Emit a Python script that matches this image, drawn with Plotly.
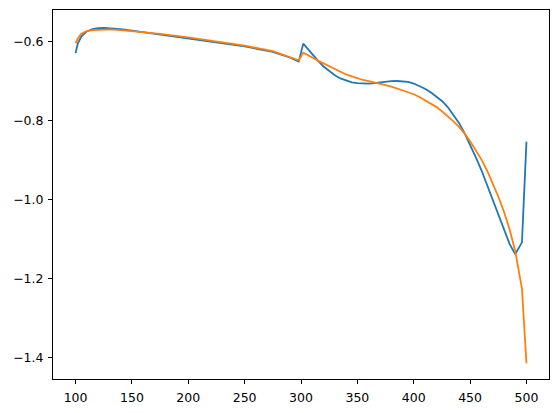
import plotly.graph_objects as go

# x positions shared by both series
X_VALS = [100, 102, 105, 110, 115, 120, 125, 130, 140, 150, 175, 200, 225, 250,
          275, 290, 298, 302, 306, 310, 315, 320, 325, 330, 335, 340, 345, 350,
          355, 360, 365, 370, 375, 380, 385, 390, 395, 400, 405, 410, 415, 420,
          425, 430, 435, 440, 445, 450, 455, 460, 465, 470, 475, 480, 485, 490,
          496, 500]

BLUE_VALS = [-0.629, -0.605, -0.587, -0.574, -0.568, -0.5655, -0.565, -0.5655,
             -0.568, -0.572, -0.582, -0.592, -0.601, -0.612, -0.626, -0.640,
             -0.650, -0.605, -0.618, -0.632, -0.648, -0.663, -0.675, -0.685,
             -0.693, -0.699, -0.703, -0.705, -0.706, -0.706, -0.705, -0.703,
             -0.701, -0.700, -0.6995, -0.700, -0.702, -0.706, -0.712, -0.719,
             -0.728, -0.738, -0.750, -0.765, -0.784, -0.805, -0.831, -0.860,
             -0.892, -0.925, -0.962, -1.000, -1.037, -1.072, -1.112, -1.138,
             -1.108, -0.853]

ORANGE_VALS = [-0.604, -0.592, -0.580, -0.573, -0.5705, -0.5695, -0.569, -0.569,
               -0.5705, -0.573, -0.580, -0.589, -0.599, -0.610, -0.624, -0.638,
               -0.647, -0.628, -0.633, -0.640, -0.648, -0.655, -0.663, -0.670,
               -0.677, -0.683, -0.688, -0.693, -0.697, -0.700, -0.703, -0.706,
               -0.710, -0.714, -0.718, -0.723, -0.728, -0.733, -0.740, -0.748,
               -0.756, -0.765, -0.776, -0.788, -0.801, -0.815, -0.832, -0.852,
               -0.874, -0.898, -0.926, -0.957, -0.992, -1.030, -1.075, -1.130,
               -1.225, -1.414]

X_TICKS = [100, 150, 200, 250, 300, 350, 400, 450, 500]
Y_TICKS = [-0.6, -0.8, -1.0, -1.2, -1.4]

fig = go.Figure()
for vals, color in [(BLUE_VALS, "#1f77b4"), (ORANGE_VALS, "#ff7f0e")]:
    fig.add_trace(go.Scatter(x=X_VALS, y=vals, mode="lines",
                             line=dict(color=color, width=1.8)))

axis_style = dict(
    showgrid=False,
    zeroline=False,
    showline=True,
    linecolor="black",
    linewidth=1,
    mirror=True,
    ticks="outside",
    ticklen=4,
    tickwidth=1,
    tickcolor="black",
    automargin=False,
    tickfont=dict(family="DejaVu Sans", size=12.5, color="black"),
)

fig.update_layout(
    width=559,
    height=413,
    showlegend=False,
    paper_bgcolor="white",
    plot_bgcolor="white",
    margin=dict(l=53, r=10, t=10, b=34),
)
fig.update_xaxes(range=[80, 520], tickvals=X_TICKS, ticklabelstandoff=3,
                 **axis_style)
fig.update_yaxes(range=[-1.454, -0.5198], tickvals=Y_TICKS, tickformat=".1f",
                 ticklabelstandoff=2, **axis_style)

# page body has an 8px default margin, drop it so the figure sits at 0,0
fig.write_html("out.html", config={"displayModeBar": False},
               post_script="document.body.style.margin='0';")
